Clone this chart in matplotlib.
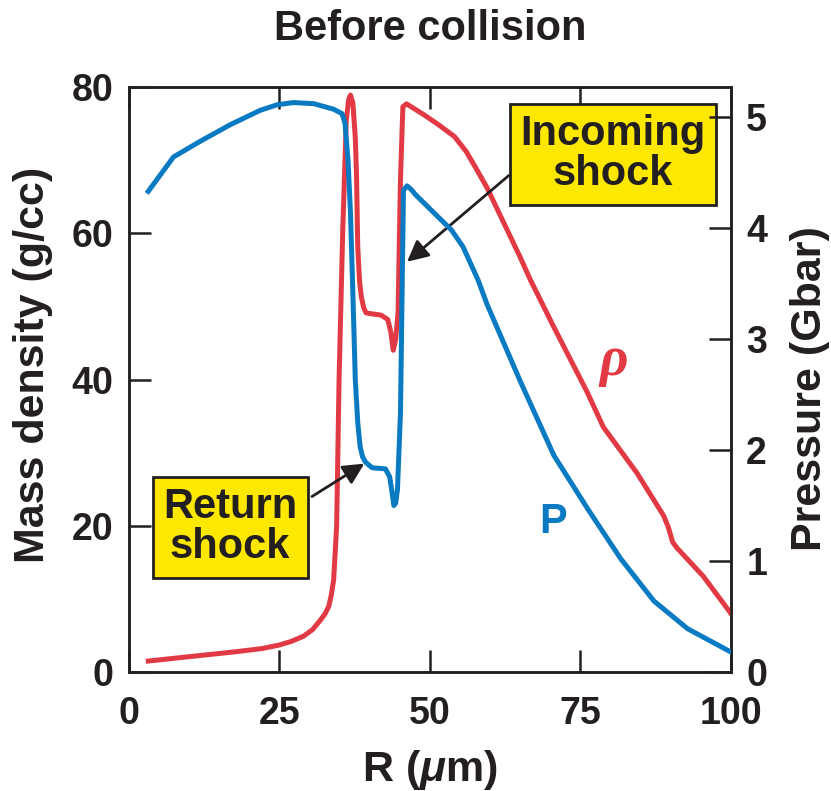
import matplotlib
matplotlib.use("Agg")
import matplotlib.pyplot as plt

plt.rcParams['font.family'] = ['Liberation Sans', 'DejaVu Sans']
plt.rcParams['font.weight'] = 'bold'
plt.rcParams['mathtext.fontset'] = 'custom'
plt.rcParams['mathtext.rm'] = 'Liberation Sans:bold'
plt.rcParams['mathtext.it'] = 'Liberation Sans:italic:bold'
plt.rcParams['mathtext.bf'] = 'Liberation Sans:bold'

# Radius (um) and mass density (g/cc)
r_rho = [3.2, 10, 18, 22, 25, 27, 29.0, 30.5, 31.8, 32.6, 33.2, 33.6, 34.0, 34.5,
         34.9, 35.5, 36.1, 36.5, 36.8, 37.2, 37.6, 37.8, 38.0, 38.3, 38.6, 39.0,
         39.4, 41.9, 43.0, 43.5, 43.9, 44.3, 44.7, 45.1, 45.5, 46.1, 49.0, 51.5,
         54.1, 56.0, 57.5, 59.5, 65.0, 66.7, 70.5, 76.1, 78.8, 84.4, 88.8, 89.6,
         90.3, 91.0, 95.4, 100]
rho = [1.5, 2.1, 2.8, 3.2, 3.7, 4.2, 4.9, 5.8, 7.1, 8.0, 9.0, 10.5, 12.6, 20,
       40, 60, 75.5, 78.3, 78.9, 77.8, 73, 68, 58.2, 53.5, 51.3, 49.8,
       49.1, 48.8, 48.2, 46.5, 44.0, 45.5, 49.1, 67.3, 77.3, 77.7, 76.2, 74.8,
       73.2, 71.2, 69.1, 66.2, 56.7, 53.6, 47.3, 38.3, 33.5, 27.2, 21.4, 19.8,
       17.8, 17.0, 13.1, 8.0]

# Radius (um) and pressure (Gbar)
r_p = [3.2, 7.4, 11.8, 16.8, 21.8, 24.6, 27.3, 30.7, 34.0, 35.4, 35.9, 36.4,
       36.8, 37.2, 37.6, 38.0, 38.4, 38.8, 39.3, 40.4, 42.6, 43.3, 43.7, 44.0,
       44.3, 44.6, 45.1, 45.4, 45.6, 46.2, 47.0, 47.6, 53.6, 55.5, 58.0, 59.5,
       65.0, 70.6, 76.2, 81.7, 87.2, 92.8, 100]
pres = [4.33, 4.64, 4.78, 4.93, 5.06, 5.11, 5.13, 5.12, 5.07, 5.03, 4.94, 4.6,
        4.13, 3.4, 2.63, 2.25, 2.03, 1.94, 1.89, 1.84, 1.83, 1.76, 1.62, 1.50,
        1.52, 1.64, 2.33, 3.53, 4.34, 4.38, 4.34, 4.30, 3.98, 3.83, 3.53, 3.31,
        2.62, 1.95, 1.47, 1.02, 0.64, 0.39, 0.18]

x_ticks = [0, 25, 50, 75, 100]
rho_ticks = [0, 20, 40, 60, 80]
p_ticks = [0, 1, 2, 3, 4, 5]

RED = '#E23A44'
BLUE = '#0A7BC2'
INK = '#231F20'
YELLOW = '#FFE800'
FS_TICK = 27
FS_TEXT = 30
FS_LABEL = 31

fig = plt.figure(figsize=(8.31, 7.91), dpi=100)
ax = fig.add_axes([0.1552, 0.1504, 0.7244, 0.7396])
ax2 = ax.twinx()

ax.plot(r_rho, rho, color=RED, lw=3.6, solid_joinstyle='round', zorder=3)
ax2.plot(r_p, pres, color=BLUE, lw=3.6, solid_joinstyle='round', zorder=3)

ax.set_xlim(0, 100)
ax.set_ylim(0, 80)
ax2.set_ylim(0, 80 * 5 / 75.9)

ax.set_xticks(x_ticks)
ax.set_yticks(rho_ticks)
ax2.set_yticks(p_ticks)

for a in (ax, ax2):
    for s in a.spines.values():
        s.set_linewidth(1.8)
        s.set_color(INK)

ax.tick_params(axis='both', direction='in', length=16, width=1.8, color=INK,
               labelsize=FS_TICK, top=True, right=False)
ax.tick_params(axis='x', pad=17)
ax.tick_params(axis='y', pad=11)
ax2.tick_params(axis='y', direction='in', length=16, width=1.8, color=INK,
                labelsize=FS_TICK, pad=11)
for lab in ax.get_xticklabels() + ax.get_yticklabels() + ax2.get_yticklabels():
    lab.set_fontweight('bold')
    lab.set_color(INK)

fig.text(430 / 831, 1 - 29 / 791, 'Before collision', fontsize=FS_TEXT,
         fontweight='bold', color=INK, ha='center', va='center')
fig.text(33 / 831, 1 - 365 / 791, 'Mass density (g/cc)', fontsize=FS_LABEL,
         fontweight='bold', color=INK, ha='center', va='center', rotation=90)
fig.text(810 / 831, 1 - 389 / 791, 'Pressure (Gbar)', fontsize=FS_LABEL,
         fontweight='bold', color=INK, ha='center', va='center', rotation=90)
fig.text(430 / 831, 1 - 770 / 791, r'R ($\mu$m)', fontsize=FS_LABEL,
         fontweight='bold', color=INK, ha='center', va='center')

# Curve labels
ax.text(80.6, 42.5, 'ρ', color=RED, fontsize=40, fontweight='bold',
        fontstyle='italic', family='Liberation Serif', ha='center', va='center')
ax.text(70.5, 20.5, 'P', color=BLUE, fontsize=FS_TEXT, fontweight='bold',
        ha='center', va='center')

box = dict(boxstyle='square,pad=0.25', facecolor=YELLOW, edgecolor=INK, lw=2)
arrow = dict(arrowstyle='-|>', color=INK, lw=2, mutation_scale=32,
             shrinkA=0, shrinkB=0)

ax.annotate('', xy=(46.2, 56.1), xytext=(63.1, 67.9), arrowprops=arrow, zorder=4)
ax.text(80.4, 70.8, 'Incoming\nshock', fontsize=FS_TEXT, fontweight='bold',
        color=INK, ha='center', va='center', multialignment='center',
        linespacing=1.0, bbox=box, zorder=5)

ax.annotate('', xy=(39.1, 28.5), xytext=(30.4, 24.0), arrowprops=arrow, zorder=4)
ax.text(16.8, 19.8, 'Return\nshock', fontsize=FS_TEXT, fontweight='bold',
        color=INK, ha='center', va='center', multialignment='center',
        linespacing=1.0, bbox=box, zorder=5)

fig.savefig('out.png', dpi=100)
